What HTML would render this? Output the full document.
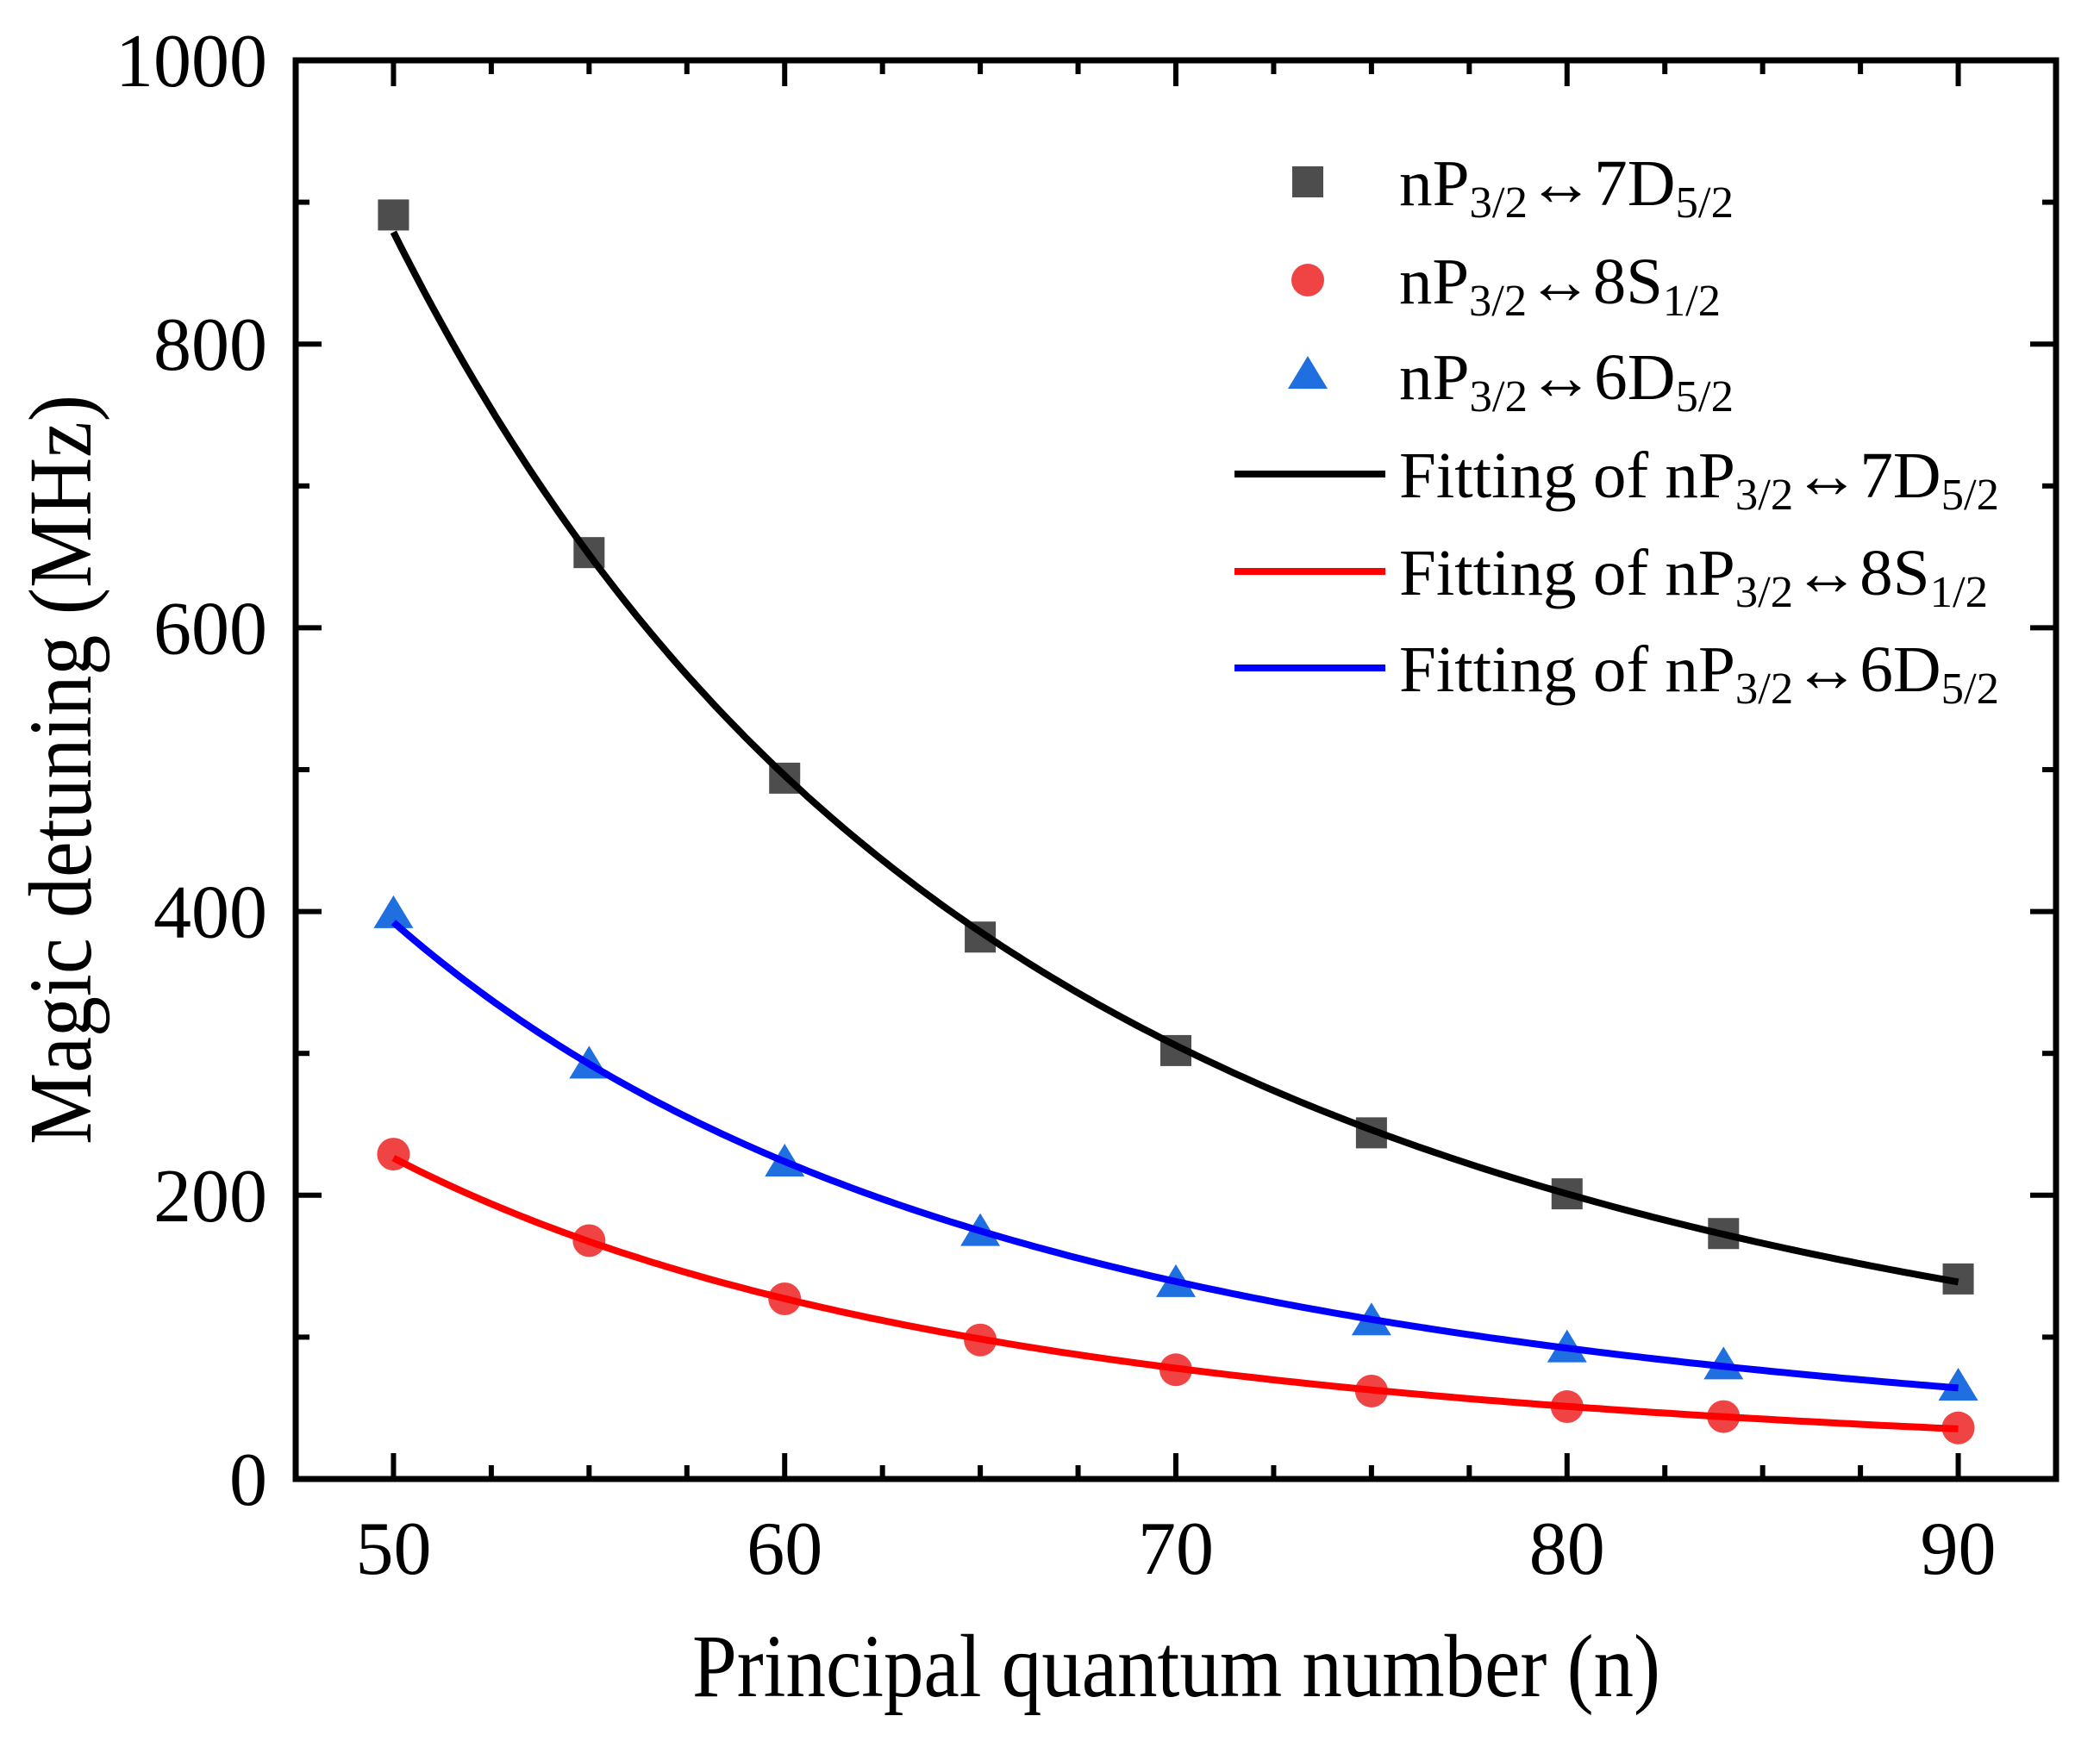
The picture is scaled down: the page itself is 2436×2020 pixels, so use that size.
<!DOCTYPE html>
<html><head><meta charset="utf-8"><style>
html,body{margin:0;padding:0;background:#fff;}
svg{display:block;font-family:"Liberation Serif","Times New Roman",serif;}
</style></head><body>
<svg id="chart" width="2436" height="2020" viewBox="0 0 2436 2020" xmlns="http://www.w3.org/2000/svg">
<g id="axes"></g>
<g id="series"></g>
<text x="803" y="1968" font-size="104" textLength="1123" lengthAdjust="spacingAndGlyphs">Principal quantum number (n)</text>
<text transform="translate(105,893) rotate(-90)" font-size="104" text-anchor="middle" textLength="870" lengthAdjust="spacingAndGlyphs">Magic detuning (MHz)</text>
<g id="legend" font-size="76">
  <rect x="1499" y="193" width="36" height="36" fill="#4d4d4d"/>
  <text x="1623" y="238" textLength="388" lengthAdjust="spacingAndGlyphs">nP<tspan font-size="52" dy="14">3/2</tspan><tspan dy="-14">↔7D</tspan><tspan font-size="52" dy="14">5/2</tspan></text>
  <circle cx="1517" cy="325" r="19" fill="#f04444"/>
  <text x="1623" y="352" textLength="373" lengthAdjust="spacingAndGlyphs">nP<tspan font-size="52" dy="14">3/2</tspan><tspan dy="-14">↔8S</tspan><tspan font-size="52" dy="14">1/2</tspan></text>
  <polygon points="1517,413 1540,451 1494,451" fill="#1f6fe0"/>
  <text x="1623" y="463" textLength="388" lengthAdjust="spacingAndGlyphs">nP<tspan font-size="52" dy="14">3/2</tspan><tspan dy="-14">↔6D</tspan><tspan font-size="52" dy="14">5/2</tspan></text>
  <line x1="1432" y1="550" x2="1607" y2="550" stroke="#000" stroke-width="8"/>
  <text x="1623" y="577" textLength="696" lengthAdjust="spacingAndGlyphs">Fitting of nP<tspan font-size="52" dy="14">3/2</tspan><tspan dy="-14">↔7D</tspan><tspan font-size="52" dy="14">5/2</tspan></text>
  <line x1="1432" y1="663" x2="1607" y2="663" stroke="#ff0000" stroke-width="8"/>
  <text x="1623" y="690" textLength="683" lengthAdjust="spacingAndGlyphs">Fitting of nP<tspan font-size="52" dy="14">3/2</tspan><tspan dy="-14">↔8S</tspan><tspan font-size="52" dy="14">1/2</tspan></text>
  <line x1="1432" y1="775" x2="1607" y2="775" stroke="#0000ff" stroke-width="8"/>
  <text x="1623" y="802" textLength="696" lengthAdjust="spacingAndGlyphs">Fitting of nP<tspan font-size="52" dy="14">3/2</tspan><tspan dy="-14">↔6D</tspan><tspan font-size="52" dy="14">5/2</tspan></text>
</g>
</svg>
<script>
const nValues = [50, 55, 60, 65, 70, 75, 80, 84, 90];
const detuning7D = [891, 653, 494, 382, 302, 244, 201, 173, 141];
const detuning8S = [229, 168, 127, 98, 77, 62, 51, 44, 36];
const detuning6D = [398, 292, 223, 174, 138, 111, 92, 80, 65];
const xTicks = [50, 60, 70, 80, 90];
const yTicks = [0, 200, 400, 600, 800, 1000];

const NS = "http://www.w3.org/2000/svg";
const L = 343, R = 2385, T = 70, B = 1716;
const xMin = 47.5, xMax = 92.5, yMin = 0, yMax = 1000;
function sx(v){ return L + (v - xMin) / (xMax - xMin) * (R - L); }
function sy(v){ return B - (v - yMin) / (yMax - yMin) * (B - T); }
function mk(tag, attrs, parent){
  const e = document.createElementNS(NS, tag);
  for (const k in attrs) e.setAttribute(k, attrs[k]);
  parent.appendChild(e);
  return e;
}
const axes = document.getElementById('axes');
const series = document.getElementById('series');

const frame = mk('rect', {x:L, y:T, width:R-L, height:B-T, fill:'none', stroke:'#000', 'stroke-width':7}, axes);



for (let v = 50; v <= 92.5; v += 2.5) {
  const major = (v % 10 === 0);
  const len = major ? 30 : 16;
  const x = sx(v);
  const t1 = mk('line', {x1:x, y1:B, x2:x, y2:B-len, stroke:'#000', 'stroke-width':6}, axes);
  
  
  const t2 = mk('line', {x1:x, y1:T, x2:x, y2:T+len, stroke:'#000', 'stroke-width':6}, axes);
  
  
}
xTicks.forEach(v => {
  const t = mk('text', {x:sx(v), y:1826, 'font-size':88, 'text-anchor':'middle'}, axes);
  t.textContent = v;
  
  
});
for (let v = 0; v <= 1000; v += 100) {
  const major = (v % 200 === 0);
  const len = major ? 30 : 16;
  const y = sy(v);
  const t1 = mk('line', {x1:L, y1:y, x2:L+len, y2:y, stroke:'#000', 'stroke-width':6}, axes);
  
  
  const t2 = mk('line', {x1:R, y1:y, x2:R-len, y2:y, stroke:'#000', 'stroke-width':6}, axes);
  
  
}
yTicks.forEach(v => {
  const t = mk('text', {x:310, y:sy(v)+30, 'font-size':88, 'text-anchor':'end'}, axes);
  t.textContent = v;
  
  
});

function powerFit(xs, ys){
  const lx = xs.map(Math.log), ly = ys.map(Math.log);
  const m = xs.length;
  const mx = lx.reduce((a,b)=>a+b,0)/m, my = ly.reduce((a,b)=>a+b,0)/m;
  let num=0, den=0;
  for (let i=0;i<m;i++){ num += (lx[i]-mx)*(ly[i]-my); den += (lx[i]-mx)**2; }
  const b = num/den, a = Math.exp(my - b*mx);
  return n => a*Math.pow(n, b);
}
function fitLine(ys, color, name){
  const f = powerFit(nValues, ys);
  let d = '';
  const n0 = nValues[0], n1 = nValues[nValues.length-1];
  for (let i=0;i<=200;i++){
    const n = n0 + (n1-n0)*i/200;
    d += (i?'L':'M') + sx(n).toFixed(1) + ',' + sy(f(n)).toFixed(1);
  }
  const p = mk('path', {d:d, fill:'none', stroke:color, 'stroke-width':8}, series);
  
  
}

nValues.forEach((n,i) => {
  const s = mk('rect', {x:sx(n)-18, y:sy(detuning7D[i])-18, width:36, height:36, fill:'#4d4d4d'}, series);
  
  
});
nValues.forEach((n,i) => {
  const c = mk('circle', {cx:sx(n), cy:sy(detuning8S[i]), r:19, fill:'#f04444'}, series);
  
  
});
nValues.forEach((n,i) => {
  const x = sx(n), y = sy(detuning6D[i]);
  const p = mk('polygon', {points:`${x},${y-22} ${x+23},${y+16} ${x-23},${y+16}`, fill:'#1f6fe0'}, series);
  
  
});
fitLine(detuning7D, '#000000', 'fit-line-7d');
fitLine(detuning8S, '#ff0000', 'fit-line-8s');
fitLine(detuning6D, '#0000ff', 'fit-line-6d');
</script>
</body></html>
